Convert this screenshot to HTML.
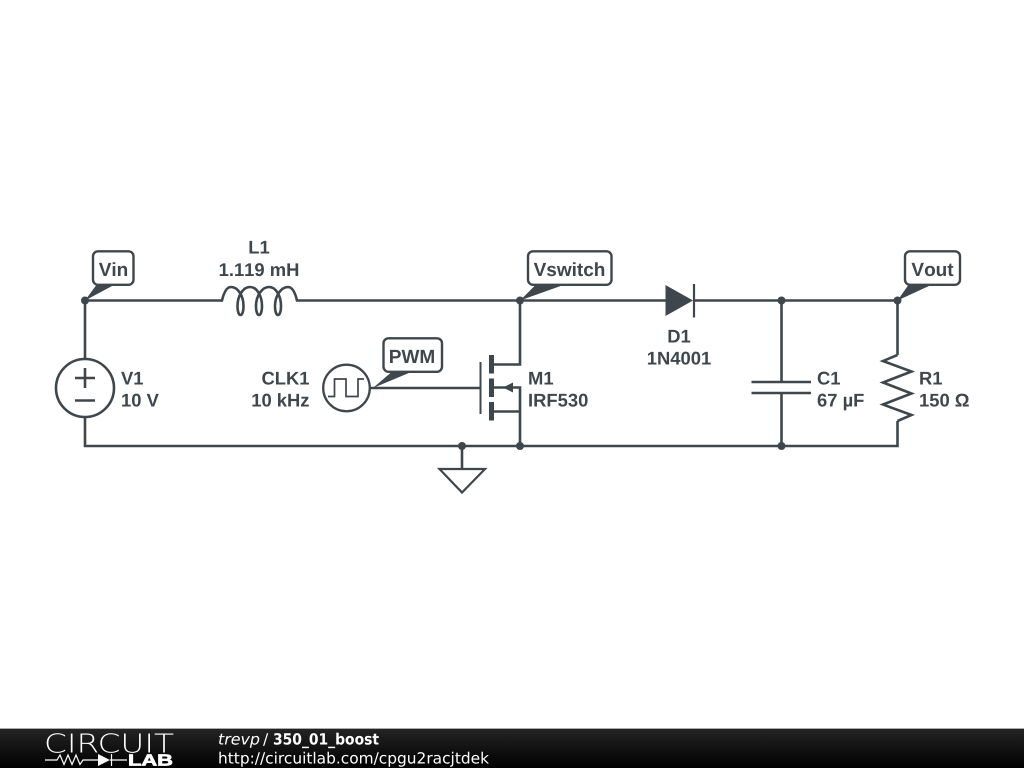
<!DOCTYPE html>
<html>
<head>
<meta charset="utf-8">
<style>
html,body{margin:0;padding:0;background:#fff;width:1024px;height:768px;overflow:hidden}
svg{display:block;text-rendering:geometricPrecision}
.w{fill:none;stroke:#3e474d;stroke-width:2.6;stroke-linejoin:miter}
.t{font-family:"Liberation Sans",sans-serif;font-weight:bold;font-size:18.4px;fill:#3e474d;font-kerning:none}
.c{font-size:19px}
.m{text-anchor:middle}
.e{text-anchor:end}
.d{fill:#3e474d}
.b{fill:#fff;stroke:#3e474d;stroke-width:2.4}
.f{font-family:"DejaVu Sans",sans-serif;font-size:15.4px;fill:#fff}
</style>
</head>
<body>
<svg width="1024" height="768" viewBox="0 0 1024 768" xmlns="http://www.w3.org/2000/svg">
<defs>
<linearGradient id="g" x1="0" y1="0" x2="0" y2="1"><stop offset="0" stop-color="#242424"/><stop offset="1" stop-color="#000"/></linearGradient>
</defs>
<rect width="1024" height="768" fill="#fff"/>

<!-- wires -->
<path class="w" d="M85 300.500H222M298 300.500H666M694 300.500H897.500M85 300.500V359M85 417V446H897.500V421M897.500 300.500V355"/>
<path class="w" d="M520 300.500V364.500H493M493 387.500H520V446M493 411.500H520"/>
<path class="w" d="M370 388H481"/>
<path class="w" d="M781.500 300.500V382M781.500 393V446"/>
<path class="w" d="M462 446V469"/>

<!-- junctions -->
<g class="d">
<circle cx="85" cy="300.500" r="4"/><circle cx="520" cy="300.500" r="4"/><circle cx="781.500" cy="300.500" r="4"/><circle cx="897.500" cy="300.500" r="4"/>
<circle cx="462" cy="446" r="4"/><circle cx="520" cy="446" r="4"/><circle cx="781.500" cy="446" r="4"/>
</g>

<!-- V1 -->
<circle cx="85" cy="388" r="29" class="w"/>
<path class="w" d="M75 378H95M85 368V388M75 400.500H95"/>

<!-- L1 -->
<path class="w" d="M221 300.500H222C224 292 227 287 231 287
C238 287 243.500 296 243.500 306C243.500 312 242 315 240.500 315C239 315 237.500 312 237.500 306C237.500 296 243 287 250 287
C257 287 262 296 262 306C262 312 260.500 315 259 315C257.500 315 256 312 256 306C256 296 262 287 269 287
C276 287 281 296 281 306C281 312 279.500 315 278 315C276.500 315 275 312 275 306C275 296 281 287 288 287
C292 287 295 292 297 300.500H298"/>

<!-- CLK1 -->
<circle cx="346.500" cy="388" r="23.300" class="w" style="stroke-width:2.300"/>
<path fill="none" stroke="#3e474d" stroke-width="1.700" d="M328 396.500H334.500V379H346V396.500H358V379H364"/>

<!-- MOSFET -->
<path fill="none" stroke="#3e474d" stroke-width="2" d="M480.500 362V414"/>
<g class="d">
<rect x="489" y="355" width="5" height="18.500"/>
<rect x="489" y="378.500" width="5" height="18.500"/>
<rect x="489" y="402" width="5" height="18.500"/>
<path d="M503 387.500L513 382.500V392.500Z"/>
</g>

<!-- ground -->
<path fill="#fff" stroke="#3e474d" stroke-width="2.200" d="M439.500 469H485L462 492.500Z"/>

<!-- diode -->
<path class="d" d="M665.500 285V316L693 300.500Z"/>
<path fill="none" stroke="#3e474d" stroke-width="2.200" d="M694 284V317.500"/>

<!-- cap -->
<path class="w" d="M751.500 382H811M751.500 393H811"/>

<!-- resistor -->
<path class="w" d="M897.500 355L883 361L911.500 371.500L883 382.500L911.500 393.500L883 404.500L911.500 415L897.500 421"/>

<!-- callouts -->
<g>
<rect class="b" x="93" y="251.300" width="40.500" height="33.500" rx="5"/>
<path class="d" d="M85 300.500L96 285.500H113Z"/>
<rect class="b" x="528" y="251.300" width="83.500" height="33.500" rx="5"/>
<path class="d" d="M520 300.500L535 285.500H562Z"/>
<rect class="b" x="905" y="251.300" width="55" height="33.500" rx="5"/>
<path class="d" d="M897.500 300.500L908 285.500H930Z"/>
<rect class="b" x="383.500" y="338.300" width="58.500" height="33.500" rx="5"/>
<path class="d" d="M373 388L391 372.500H410Z"/>
</g>

<!-- labels -->
<g class="t">
<text class="m c" x="113.500" y="276">Vin</text>
<text class="m c" x="569.500" y="276">Vswitch</text>
<text class="m c" x="932.500" y="276">Vout</text>
<text class="m c" x="412" y="363">PWM</text>
<text class="m" x="259" y="253.500">L1</text>
<text class="m" x="259" y="276">1.119 mH</text>
<text x="121" y="384.500">V1</text>
<text x="121" y="406.500">10 V</text>
<text class="e" x="309.500" y="384.500">CLK1</text>
<text class="e" x="309.500" y="406.500">10 kHz</text>
<text x="528" y="384.500">M1</text>
<text x="528" y="406.500">IRF530</text>
<text class="m" x="679" y="342.500">D1</text>
<text class="m" x="679" y="364.500">1N4001</text>
<text x="817" y="384.500">C1</text>
<text x="817" y="406.500">67 µF</text>
<text x="919" y="384.500">R1</text>
<text x="919" y="406.500">150 Ω</text>
</g>

<!-- footer -->
<rect x="0" y="728" width="1024" height="1" fill="#aaa"/>
<rect x="0" y="729" width="1024" height="39" fill="url(#g)"/>
<text x="44" y="752.500" font-family="DejaVu Sans, sans-serif" font-weight="200" font-size="26" fill="#fff" textLength="130" lengthAdjust="spacingAndGlyphs">CIRCUIT</text>
<path fill="none" stroke="#fff" stroke-width="1.200" d="M45 760H57L60 755L64 764.500L68 755L72 764.500L76 755L80 764.500L83 760H98M110 760H127M111.500 754V766"/>
<path fill="#fff" d="M98 754V766L110 760Z"/>
<text x="128" y="765.500" font-family="Liberation Sans, sans-serif" font-weight="bold" font-size="16" fill="#fff" stroke="#fff" stroke-width="0.700" textLength="45" lengthAdjust="spacingAndGlyphs">LAB</text>
<text class="f" x="218" y="744.500" font-style="italic" textLength="42" lengthAdjust="spacingAndGlyphs">trevp</text>
<text class="f" x="263" y="744.500">/</text>
<text class="f" x="273" y="744.500" font-weight="bold" textLength="106" lengthAdjust="spacingAndGlyphs">350_01_boost</text>
<text class="f" x="218" y="763.500" textLength="271" lengthAdjust="spacingAndGlyphs">http://circuitlab.com/cpgu2racjtdek</text>
</svg>
</body>
</html>
